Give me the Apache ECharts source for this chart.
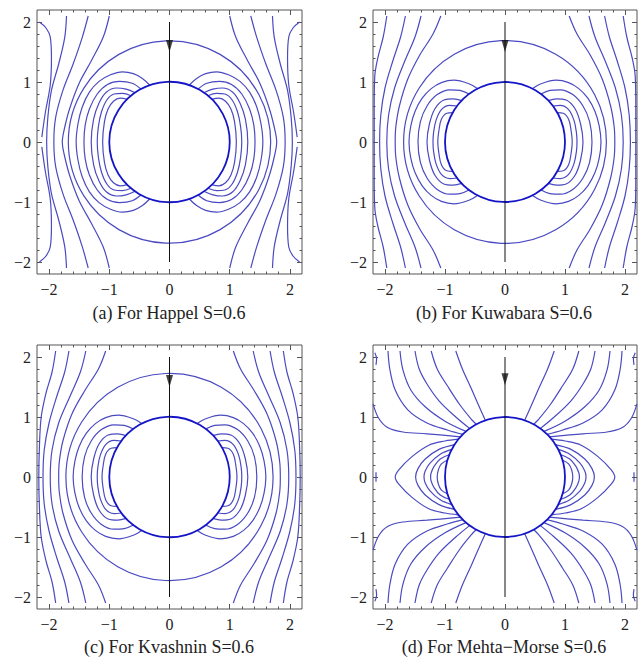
<!DOCTYPE html>
<html><head><meta charset="utf-8">
<script src="https://cdn.jsdelivr.net/npm/echarts@6/dist/echarts.min.js"></script>
<style>html,body{margin:0;padding:0;background:#fff}#c{width:640px;height:657px}</style>
</head><body><div id="c"></div>
<script>
// ---------- data ----------
const axisMin = -2.2, axisMax = 2.2;
const majorTicks = [-2, -1, 0, 1, 2];
const minorTicks = [-1.8,-1.6,-1.4,-1.2,-0.8,-0.6,-0.4,-0.2,0.2,0.4,0.6,0.8,1.2,1.4,1.6,1.8];
const captions = ['(a) For Happel S=0.6', '(b) For Kuwabara S=0.6', '(c) For Kvashnin S=0.6', '(d) For Mehta\u2212Morse S=0.6'];
const sphereRadius = 1;
const cellRadius = [1.68, 1.69, 1.72, null];
const flowLine = [[0, 2], [0, -2]];
const arrowY = [1.6, 1.6, 1.6, 1.63];

// Curves are read in the upper-right quadrant (x>=0, y>=0) and mirrored.
// "loops"/"open": end on y=0 and are joined with their mirror image below the axis.
// "pieces": stand-alone pieces copied to the four quadrants.
const happelLoops = [
  [[0.33,0.95],[0.45,1.06],[0.6,1.14],[0.78,1.17],[0.98,1.12],[1.17,1.01],[1.33,0.83],[1.45,0.58],[1.52,0.3],[1.55,0]],
  [[0.47,0.88],[0.62,0.98],[0.83,1.01],[1.03,0.96],[1.2,0.8],[1.33,0.55],[1.4,0.28],[1.42,0]],
  [[0.57,0.82],[0.72,0.88],[0.88,0.9],[1.05,0.83],[1.17,0.65],[1.26,0.38],[1.3,0]],
  [[0.64,0.77],[0.78,0.81],[0.92,0.8],[1.04,0.7],[1.13,0.5],[1.18,0.26],[1.2,0]],
  [[0.7,0.71],[0.82,0.73],[0.93,0.68],[1.02,0.55],[1.08,0.34],[1.11,0]]
];
const happelOpen = [
  [[1.0,2.1],[1.1,1.75],[1.3,1.35],[1.5,0.98],[1.66,0.55],[1.75,0.2],[1.78,0]],
  [[1.35,2.1],[1.45,1.74],[1.6,1.3],[1.77,0.86],[1.89,0.41],[1.92,0]],
  [[1.71,2.1],[1.74,1.74],[1.84,1.3],[1.96,0.86],[2.02,0.41],[2.04,0]]
];
const happelPieces = [
  [[2.16,2.0],[2.05,1.9],[1.98,1.75],[1.96,1.4],[1.98,0.95],[2.06,0.5],[2.12,0.08]]
];

const kuwabaraLoops = [
  [[0.46,0.89],[0.6,0.97],[0.85,1.03],[1.06,0.99],[1.23,0.89],[1.38,0.73],[1.5,0.51],[1.57,0.27],[1.6,0]],
  [[0.6,0.8],[0.75,0.86],[0.92,0.87],[1.13,0.79],[1.3,0.6],[1.41,0.34],[1.45,0]],
  [[0.72,0.69],[0.86,0.72],[1.02,0.7],[1.17,0.55],[1.26,0.3],[1.3,0]],
  [[0.8,0.6],[0.92,0.61],[1.06,0.54],[1.15,0.36],[1.19,0.16],[1.2,0]],
  [[0.87,0.49],[0.97,0.48],[1.06,0.38],[1.1,0.2],[1.12,0]]
];
const kuwabaraOpen = [
  [[1.07,2.1],[1.2,1.8],[1.42,1.45],[1.62,1.05],[1.76,0.6],[1.82,0.25],[1.83,0]],
  [[1.4,2.1],[1.5,1.75],[1.67,1.35],[1.84,0.9],[1.94,0.45],[1.97,0]],
  [[1.66,2.1],[1.74,1.75],[1.87,1.35],[2.0,0.9],[2.07,0.45],[2.09,0]],
  [[1.97,2.1],[2.03,1.75],[2.12,1.4],[2.17,1.1],[2.18,0.6],[2.18,0]]
];
const kuwabaraPieces = [];

const kvashninLoops = [
  [[0.46,0.89],[0.6,0.97],[0.85,1.03],[1.06,0.99],[1.23,0.89],[1.38,0.73],[1.5,0.51],[1.57,0.27],[1.6,0]],
  [[0.6,0.8],[0.75,0.86],[0.92,0.87],[1.13,0.79],[1.3,0.6],[1.41,0.34],[1.45,0]],
  [[0.72,0.69],[0.86,0.72],[1.02,0.7],[1.17,0.55],[1.26,0.3],[1.3,0]],
  [[0.8,0.6],[0.92,0.61],[1.06,0.54],[1.15,0.36],[1.19,0.16],[1.2,0]],
  [[0.87,0.49],[0.97,0.48],[1.06,0.38],[1.1,0.2],[1.12,0]]
];
const kvashninOpen = [
  [[1.06,2.1],[1.18,1.8],[1.4,1.45],[1.62,1.05],[1.77,0.6],[1.83,0.25],[1.84,0]],
  [[1.39,2.1],[1.48,1.75],[1.65,1.35],[1.84,0.9],[1.95,0.45],[1.98,0]],
  [[1.67,2.1],[1.74,1.75],[1.87,1.35],[2.0,0.9],[2.08,0.45],[2.1,0]],
  [[1.89,2.1],[1.95,1.75],[2.05,1.4],[2.13,1.0],[2.16,0.5],[2.17,0]]
];
const kvashninPieces = [];

const mehtaLoops = [
  [[0.78,0.63],[1.0,0.6],[1.27,0.53],[1.55,0.34],[1.77,0.12],[1.83,0]],
  [[0.84,0.54],[1.1,0.46],[1.33,0.3],[1.45,0.14],[1.49,0]],
  [[0.89,0.46],[1.08,0.38],[1.25,0.23],[1.33,0.1],[1.35,0]],
  [[0.93,0.37],[1.08,0.3],[1.18,0.18],[1.23,0.07],[1.24,0]],
  [[0.96,0.28],[1.06,0.22],[1.11,0.12],[1.13,0]]
];
const mehtaOpen = [
  [[2.15,0.08],[2.15,0]]
];
const mehtaPieces = [
  [[0.82,2.1],[0.71,1.8],[0.56,1.47],[0.42,1.15],[0.33,0.95]],
  [[1.23,2.1],[1.13,1.8],[0.96,1.52],[0.75,1.2],[0.55,0.95],[0.48,0.88]],
  [[1.5,2.1],[1.43,1.8],[1.3,1.55],[1.1,1.27],[0.82,1.0],[0.59,0.81]],
  [[1.75,2.1],[1.7,1.78],[1.57,1.45],[1.33,1.17],[1.0,0.93],[0.65,0.76]],
  [[1.95,2.1],[1.92,1.8],[1.83,1.45],[1.62,1.12],[1.3,0.9],[0.95,0.78],[0.7,0.71]],
  [[2.2,1.22],[2.1,0.97],[1.95,0.82],[1.7,0.75],[1.3,0.72],[0.74,0.67]],
  [[2.17,2.07],[2.14,1.97],[2.15,1.87]]
];

const panels = [
  {loops: happelLoops, open: happelOpen, pieces: happelPieces},
  {loops: kuwabaraLoops, open: kuwabaraOpen, pieces: kuwabaraPieces},
  {loops: kvashninLoops, open: kvashninOpen, pieces: kvashninPieces},
  {loops: mehtaLoops, open: mehtaOpen, pieces: mehtaPieces}
];

// ---------- layout / style ----------
const grids = [
  {left: 37, top: 10, width: 265, height: 264},
  {left: 373, top: 10, width: 264, height: 264},
  {left: 37, top: 345, width: 265, height: 264},
  {left: 373, top: 345, width: 264, height: 264}
];
const captionPos = [[169, 312.5], [504, 312.5], [169, 647], [504, 647]];
const curveColor = '#4a4ac2';
const sphereColor = '#1515c8';
const frameColor = '#555';
const serif = 'Liberation Serif';

function fmt(v) { return v < 0 ? '\u2212' + (-v) : String(v); }
function mirrorJoin(q) { return q.concat(q.slice(0, -1).reverse().map(p => [p[0], -p[1]])); }
function flipX(c) { return c.map(p => [-p[0], p[1]]); }
function flipY(c) { return c.map(p => [p[0], -p[1]]); }

const xAxes = [], yAxes = [], series = [];
grids.forEach((g, gi) => {
  ['x', 'y'].forEach(dim => {
    const positions = dim === 'x' ? ['bottom', 'top'] : ['left', 'right'];
    positions.forEach((pos, k) => {
      [true, false].forEach(major => {
        const ax = {
          type: 'value', gridIndex: gi, position: pos, min: axisMin, max: axisMax,
          axisLine: {show: false, onZero: false}, splitLine: {show: false},
          axisTick: {show: true, inside: true, length: major ? 5 : 2.5,
            customValues: major ? majorTicks : minorTicks,
            lineStyle: {color: frameColor, width: 1}},
          axisLabel: {show: major && k === 0, customValues: majorTicks, formatter: fmt,
            fontFamily: serif, fontSize: 16, color: '#222', margin: dim === 'x' ? 7 : 6}
        };
        (dim === 'x' ? xAxes : yAxes).push(ax);
      });
    });
  });
  const ai = gi * 4;
  const base = {xAxisIndex: ai, yAxisIndex: ai, silent: true, animation: false};
  const addLine = (data, color, width) => series.push(Object.assign({
    type: 'line', data, showSymbol: false, symbol: 'none', smooth: 0.35,
    lineStyle: {color, width}, z: 2
  }, base));
  const p = panels[gi];
  p.loops.concat(p.open).forEach(q => {
    const c = mirrorJoin(q);
    addLine(c, curveColor, 1.2);
    addLine(flipX(c), curveColor, 1.2);
  });
  p.pieces.forEach(q => {
    [q, flipY(q), flipX(q), flipX(flipY(q))].forEach(c => addLine(c, curveColor, 1.2));
  });
  const circles = [[sphereRadius, 0, sphereColor, 1.8]];
  if (cellRadius[gi]) circles.push([cellRadius[gi], 0, curveColor, 1.2]);
  circles.forEach(cd => series.push(Object.assign({
    type: 'custom', data: [[cd[0], cd[1]]], z: 3,
    renderItem: (params, api) => {
      const c = api.coord([0, 0]);
      const e = api.coord([api.value(0), 0]);
      return {type: 'circle', shape: {cx: c[0], cy: c[1], r: e[0] - c[0]},
        style: {fill: 'none', stroke: cd[2], lineWidth: cd[3]}};
    }
  }, base)));
  series.push(Object.assign({
    type: 'line', data: flowLine, showSymbol: false, symbol: 'none',
    lineStyle: {color: '#111', width: 1}, z: 4
  }, base));
  series.push(Object.assign({
    type: 'scatter', data: [[0, arrowY[gi]]], symbol: 'triangle', symbolRotate: 180,
    symbolSize: [7, 12], itemStyle: {color: '#111'}, z: 5
  }, base));
});

const chart = echarts.init(document.getElementById('c'), null, {renderer: 'svg'});
chart.setOption({
  animation: false,
  backgroundColor: '#fff',
  grid: grids.map(g => Object.assign({show: true, borderColor: frameColor, borderWidth: 1, backgroundColor: 'transparent'}, g)),
  xAxis: xAxes,
  yAxis: yAxes,
  series,
  graphic: captions.map((t, i) => ({
    type: 'text', x: captionPos[i][0], y: captionPos[i][1], silent: true,
    style: {text: t, fontFamily: serif, fontSize: 18, fill: '#222', textAlign: 'center', textVerticalAlign: 'middle', align: 'center', verticalAlign: 'middle'}
  }))
});
</script>
</body></html>
